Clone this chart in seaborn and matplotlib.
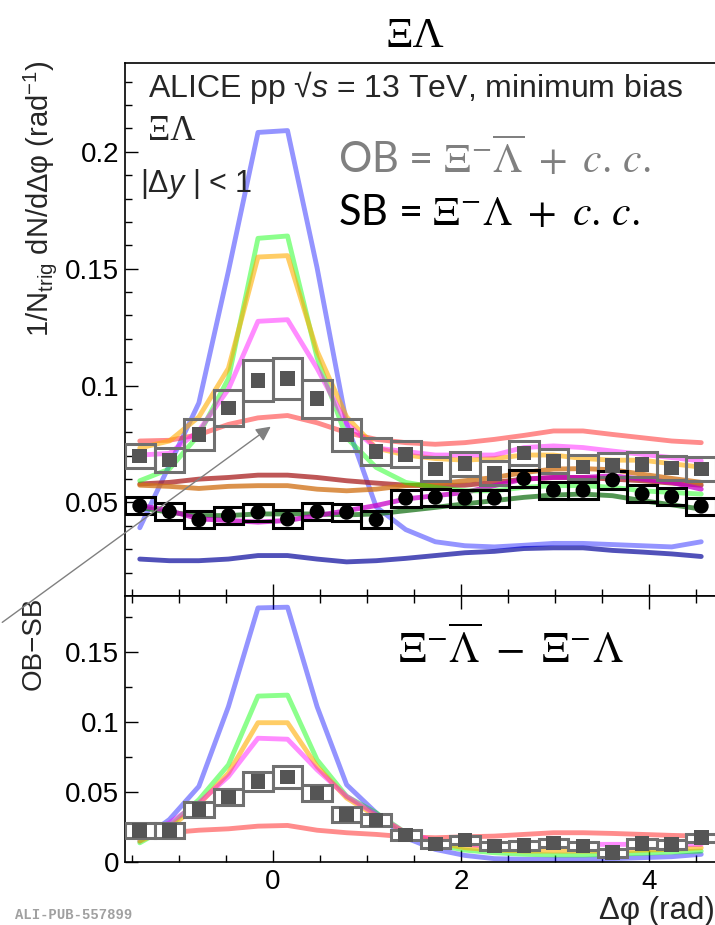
import numpy as np
import matplotlib
matplotlib.use("Agg")
import matplotlib.pyplot as plt
from matplotlib.patches import Rectangle, FancyArrowPatch
import seaborn as sns

# ---------------- data ----------------
bin_edges = np.linspace(-np.pi / 2, 3 * np.pi / 2, 21)
phi = 0.5 * (bin_edges[:-1] + bin_edges[1:])
bin_w = bin_edges[1] - bin_edges[0]

# top panel: data
ob_vals = [0.0699, 0.0681, 0.0792, 0.0904, 0.1022, 0.1030, 0.0944, 0.0789, 0.0718, 0.0706,
           0.0644, 0.0666, 0.0625, 0.0711, 0.0677, 0.0651, 0.0659, 0.0662, 0.0647, 0.0644]
ob_sys = [0.0052, 0.0052, 0.0067, 0.0077, 0.0089, 0.0089, 0.0082, 0.0067, 0.0056, 0.0056,
          0.0052, 0.0052, 0.0052, 0.0052, 0.0052, 0.0052, 0.0052, 0.0052, 0.0052, 0.0052]
sb_vals = [0.0486, 0.0461, 0.0426, 0.0444, 0.0458, 0.0429, 0.0461, 0.0458, 0.0426, 0.0518,
           0.0522, 0.0518, 0.0518, 0.0602, 0.0552, 0.0552, 0.0596, 0.0537, 0.0525, 0.0484]
sb_sys = [0.0037] * 20

# top panel: model curves
blue_top = [0.0392, 0.0659, 0.0926, 0.1490, 0.2083, 0.2091, 0.1504, 0.0837, 0.0481, 0.0384,
            0.0332, 0.0315, 0.0310, 0.0317, 0.0325, 0.0325, 0.0320, 0.0315, 0.0310, 0.0332]
green_top = [0.0593, 0.0643, 0.0790, 0.1030, 0.1630, 0.1640, 0.1120, 0.0777, 0.0650, 0.0586,
             0.0565, 0.0550, 0.0550, 0.0565, 0.0572, 0.0572, 0.0565, 0.0550, 0.0543, 0.0536]
yellow_top = [0.0733, 0.0763, 0.0866, 0.1074, 0.1550, 0.1556, 0.1148, 0.0866, 0.0733, 0.0703,
              0.0688, 0.0681, 0.0688, 0.0703, 0.0703, 0.0688, 0.0681, 0.0681, 0.0666, 0.0651]
pink_top = [0.0703, 0.0710, 0.0807, 0.0985, 0.1275, 0.1282, 0.1074, 0.0837, 0.0733, 0.0718,
            0.0703, 0.0703, 0.0703, 0.0735, 0.0742, 0.0735, 0.0720, 0.0706, 0.0692, 0.0678]
salmon_top = [0.0763, 0.0766, 0.0790, 0.0834, 0.0862, 0.0872, 0.0841, 0.0799, 0.0770, 0.0756,
              0.0749, 0.0756, 0.0770, 0.0787, 0.0806, 0.0806, 0.0791, 0.0777, 0.0763, 0.0756]
darkred_top = [0.0579, 0.0586, 0.0600, 0.0607, 0.0617, 0.0617, 0.0607, 0.0593, 0.0583, 0.0574,
               0.0572, 0.0574, 0.0586, 0.0600, 0.0607, 0.0607, 0.0600, 0.0593, 0.0583, 0.0574]
orange_top = [0.0574, 0.0569, 0.0560, 0.0569, 0.0572, 0.0572, 0.0557, 0.0550, 0.0557, 0.0572,
              0.0579, 0.0593, 0.0607, 0.0628, 0.0643, 0.0645, 0.0640, 0.0621, 0.0603, 0.0586]
magenta_top = [0.0487, 0.0465, 0.0430, 0.0423, 0.0416, 0.0423, 0.0444, 0.0465, 0.0487, 0.0515,
               0.0529, 0.0543, 0.0572, 0.0600, 0.0607, 0.0607, 0.0614, 0.0600, 0.0586, 0.0557]
darkgreen_top = [0.0479, 0.0458, 0.0444, 0.0444, 0.0451, 0.0451, 0.0451, 0.0447, 0.0451, 0.0465,
                 0.0479, 0.0494, 0.0508, 0.0522, 0.0532, 0.0536, 0.0529, 0.0508, 0.0490, 0.0472]
darkblue_top = [0.0258, 0.0251, 0.0251, 0.0258, 0.0273, 0.0273, 0.0258, 0.0246, 0.0251, 0.0261,
                0.0273, 0.0285, 0.0291, 0.0303, 0.0306, 0.0306, 0.0295, 0.0288, 0.0280, 0.0269]

# bottom panel: OB-SB
diff_vals = [0.0227, 0.0227, 0.0374, 0.0464, 0.0576, 0.0607, 0.0493, 0.0339, 0.0299, 0.0192,
             0.0130, 0.0156, 0.0114, 0.0118, 0.0137, 0.0114, 0.0066, 0.0133, 0.0126, 0.0173]
diff_sys = [0.0052, 0.0052, 0.0055, 0.0060, 0.0070, 0.0076, 0.0060, 0.0052, 0.0045, 0.0035,
            0.0030, 0.0030, 0.0030, 0.0030, 0.0030, 0.0030, 0.0030, 0.0030, 0.0030, 0.0030]
blue_bot = [0.0149, 0.0303, 0.0540, 0.1110, 0.1815, 0.1820, 0.1110, 0.0552, 0.0351, 0.0173,
            0.0090, 0.0047, 0.0024, 0.0019, 0.0019, 0.0019, 0.0024, 0.0031, 0.0038, 0.0055]
green_bot = [0.0137, 0.0256, 0.0445, 0.0694, 0.1185, 0.1192, 0.0730, 0.0469, 0.0351, 0.0209,
             0.0126, 0.0085, 0.0066, 0.0055, 0.0050, 0.0050, 0.0055, 0.0062, 0.0071, 0.0078]
yellow_bot = [0.0149, 0.0244, 0.0410, 0.0635, 0.0995, 0.0995, 0.0682, 0.0457, 0.0327, 0.0209,
              0.0137, 0.0102, 0.0085, 0.0078, 0.0078, 0.0078, 0.0078, 0.0085, 0.0090, 0.0102]
pink_bot = [0.0185, 0.0280, 0.0422, 0.0611, 0.0884, 0.0877, 0.0659, 0.0469, 0.0339, 0.0209,
            0.0149, 0.0126, 0.0114, 0.0114, 0.0118, 0.0126, 0.0126, 0.0126, 0.0126, 0.0126]
salmon_bot = [0.0209, 0.0209, 0.0227, 0.0237, 0.0256, 0.0261, 0.0227, 0.0209, 0.0197, 0.0180,
              0.0173, 0.0180, 0.0185, 0.0197, 0.0209, 0.0209, 0.0204, 0.0197, 0.0190, 0.0185]

# ---------------- style ----------------
sns.set_theme(style="ticks")
plt.rcParams["font.family"] = ["Liberation Sans", "DejaVu Sans"]
plt.rcParams["mathtext.fontset"] = "custom"
plt.rcParams["mathtext.rm"] = "Liberation Sans"
plt.rcParams["mathtext.it"] = "Liberation Sans:italic"
plt.rcParams["mathtext.bf"] = "Liberation Sans:bold"

W, H = 715, 925
fig = plt.figure(figsize=(W / 100, H / 100), dpi=100)
fig.patch.set_facecolor("white")

def fx(x):
    return x / W

def fy(y):
    return 1 - y / H

x_left, x_right = 125, 716
ax1 = fig.add_axes([fx(x_left), fy(596), (x_right - x_left) / W, (596 - 63) / H])
ax2 = fig.add_axes([fx(x_left), fy(862), (x_right - x_left) / W, (862 - 596) / H])

LW = 3.5
top_curves = [
    (darkblue_top, (0.20, 0.20, 0.68, 0.85)),
    (blue_top, (0.0, 0.0, 1.0, 0.42)),
    (darkred_top, (0.66, 0.12, 0.12, 0.75)),
    (orange_top, (0.82, 0.45, 0.10, 0.78)),
    (salmon_top, (1.0, 0.0, 0.0, 0.45)),
    (darkgreen_top, (0.10, 0.45, 0.10, 0.75)),
    (magenta_top, (0.78, 0.0, 0.78, 0.75)),
    (green_top, (0.0, 1.0, 0.0, 0.45)),
    (yellow_top, (1.0, 0.68, 0.0, 0.6)),
    (pink_top, (1.0, 0.0, 1.0, 0.45)),
]
for vals, col in top_curves:
    sns.lineplot(x=phi, y=vals, ax=ax1, color=col[:3], alpha=col[3], lw=LW, legend=False, zorder=2)

bot_curves = [
    (salmon_bot, (1.0, 0.0, 0.0, 0.45)),
    (blue_bot, (0.0, 0.0, 1.0, 0.42)),
    (green_bot, (0.0, 1.0, 0.0, 0.45)),
    (yellow_bot, (1.0, 0.68, 0.0, 0.6)),
    (pink_bot, (1.0, 0.0, 1.0, 0.45)),
]
for vals, col in bot_curves:
    sns.lineplot(x=phi, y=vals, ax=ax2, color=col[:3], alpha=col[3], lw=LW, legend=False, zorder=2)

GREY_BOX = "#707070"
GREY_MK = "#555555"

def boxes(ax, vals, sys, ec, fill):
    for xc, v, s in zip(phi, vals, sys):
        ax.add_patch(Rectangle((xc - bin_w / 2, v - s), bin_w, 2 * s,
                               facecolor="white" if fill else "none",
                               edgecolor=ec, lw=2.2, zorder=3))

boxes(ax1, ob_vals, ob_sys, GREY_BOX, False)
boxes(ax1, sb_vals, sb_sys, "black", False)
boxes(ax2, diff_vals, diff_sys, GREY_BOX, True)

sns.scatterplot(x=phi, y=ob_vals, ax=ax1, marker="s", s=110, color=GREY_MK, edgecolor="none", zorder=4, legend=False)
sns.scatterplot(x=phi, y=sb_vals, ax=ax1, marker="o", s=115, color="black", edgecolor="none", zorder=4, legend=False)
sns.scatterplot(x=phi, y=diff_vals, ax=ax2, marker="s", s=110, color=GREY_MK, edgecolor="none", zorder=4, legend=False)

# ---------------- axes ----------------
xlim = (-np.pi / 2, 3 * np.pi / 2)
for ax in (ax1, ax2):
    ax.set_xlim(*xlim)
    ax.set_xlabel("")
    ax.set_ylabel("")
    for sp in ax.spines.values():
        sp.set_color("black")
        sp.set_linewidth(1.2)
    ax.spines["right"].set_visible(False)
    ax.set_xticks([0, 2, 4])
    ax.set_xticks(np.arange(-1.5, 4.75, 0.5), minor=True)
    ax.tick_params(which="both", direction="in", color="black", width=1.0, labelsize=20,
                   labelcolor="black", pad=4)
    ax.tick_params(which="major", length=9)
    ax.tick_params(which="minor", length=5)

ax1.set_ylim(0.01, 0.238)
ax1.set_yticks([0.05, 0.1, 0.15, 0.2])
ax1.set_yticklabels(["0.05", "0.1", "0.15", "0.2"])
ax1.set_yticks(np.arange(0.01, 0.24, 0.01), minor=True)
ax1.tick_params(axis="x", labelbottom=False, top=False, which="both")

ax2.set_ylim(0, 0.19)
ax2.set_yticks([0, 0.05, 0.1, 0.15])
ax2.set_yticklabels(["0", "0.05", "0.1", "0.15"])
ax2.set_yticks(np.arange(0, 0.19, 0.025), minor=True)
ax2.tick_params(axis="x", top=True, which="both")
ax2.set_xticklabels(["0", "2", "4"])
ax2.tick_params(axis="x", pad=5)

# ---------------- texts ----------------
fig.text(fx(415), fy(37), "ΞΛ", family=["Liberation Serif", "DejaVu Serif"], fontsize=31,
         ha="center", va="center", color="black")
fig.text(fx(148), fy(88), r"ALICE pp √$s$ = 13 TeV, minimum bias", fontsize=23,
         ha="left", va="center")
fig.text(fx(148), fy(132), "ΞΛ", family=["Liberation Serif", "DejaVu Serif"], fontsize=25,
         ha="left", va="center")
fig.text(fx(140), fy(184), r"|Δ$y$ | < 1", fontsize=22, ha="left", va="center")
fig.text(fx(338), fy(158), r"OB = $\Xi^{-}\overline{\Lambda}\ +\ c.\,c.$", family=["Lato", "DejaVu Sans"],
         math_fontfamily="stix", fontsize=30, color="#808080", ha="left", va="center")
fig.text(fx(338), fy(213), r"SB = $\Xi^{-}\Lambda\ +\ c.\,c.$", family=["Lato", "DejaVu Sans"],
         math_fontfamily="stix", fontsize=30, color="black", ha="left", va="center")
fig.text(fx(398), fy(650), r"$\Xi^{-}\overline{\Lambda}\ -\ \Xi^{-}\Lambda$",
         math_fontfamily="stix", fontsize=31, color="black", ha="left", va="center")

fig.text(fx(40), fy(60), r"1/N$_{\mathrm{trig}}$ dN/dΔφ (rad$^{\mathrm{-1}}$)", fontsize=21,
         rotation=90, ha="center", va="top")
fig.text(fx(34), fy(597), "OB−SB", fontsize=20, rotation=90, ha="center", va="top")
fig.text(fx(715), fy(911), "Δφ (rad)", fontsize=22.5, ha="right", va="center")
fig.text(fx(15), fy(915), "ALI-PUB-557899", family=["Liberation Mono", "DejaVu Sans Mono"],
         fontweight="bold", fontsize=10, color="#a0a0a0", ha="left", va="center")

arrow = FancyArrowPatch((fx(0), fy(624)), (fx(273), fy(425)), transform=fig.transFigure,
                        arrowstyle="-|>", mutation_scale=22, color="#808080", lw=1.0, zorder=10)
fig.add_artist(arrow)

fig.savefig("out.png", dpi=100)
